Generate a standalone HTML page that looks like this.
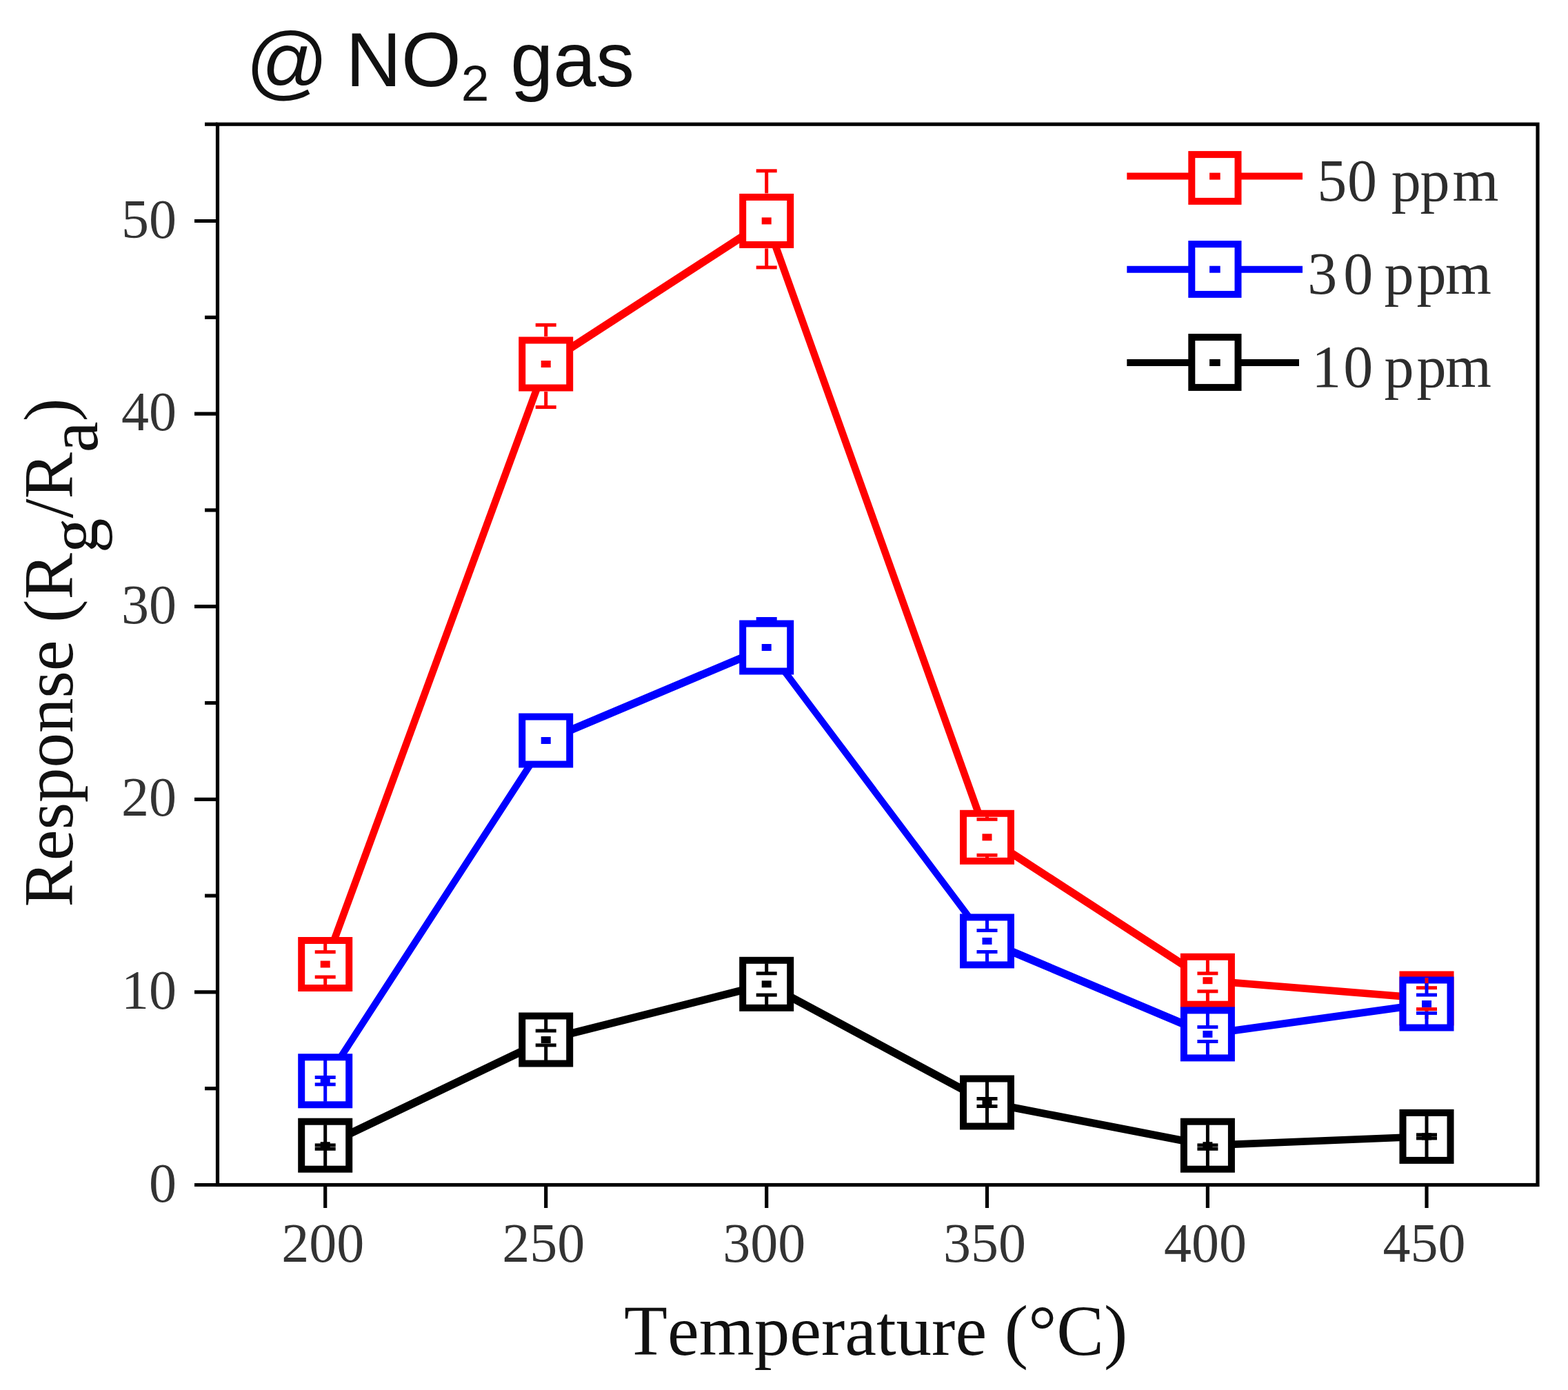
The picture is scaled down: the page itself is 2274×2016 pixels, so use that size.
<!DOCTYPE html>
<html><head><meta charset="utf-8"><title>NO2 response chart</title>
<style>html,body{margin:0;padding:0;background:#fff;}body{width:2274px;height:2016px;overflow:hidden;}svg{display:block;}text{font-kerning:none;font-feature-settings:'kern' 0;}</style>
</head><body>
<svg width="2274" height="2016" viewBox="0 0 2274 2016">
<rect x="0" y="0" width="2274" height="2016" fill="#ffffff"/>
<g stroke="#000" stroke-width="5.2" fill="none" stroke-linecap="butt">
<rect x="315.5" y="180.2" width="1914.5" height="1538.3"/>
<line x1="282.0" y1="1718.5" x2="315.5" y2="1718.5"/>
<line x1="297.0" y1="1578.7" x2="315.5" y2="1578.7"/>
<line x1="282.0" y1="1438.9" x2="315.5" y2="1438.9"/>
<line x1="297.0" y1="1299.1" x2="315.5" y2="1299.1"/>
<line x1="282.0" y1="1159.3" x2="315.5" y2="1159.3"/>
<line x1="297.0" y1="1019.5" x2="315.5" y2="1019.5"/>
<line x1="282.0" y1="879.7" x2="315.5" y2="879.7"/>
<line x1="297.0" y1="739.9" x2="315.5" y2="739.9"/>
<line x1="282.0" y1="600.1" x2="315.5" y2="600.1"/>
<line x1="297.0" y1="460.3" x2="315.5" y2="460.3"/>
<line x1="282.0" y1="320.5" x2="315.5" y2="320.5"/>
<line x1="297.0" y1="180.2" x2="315.5" y2="180.2"/>
<line x1="471.7" y1="1718.5" x2="471.7" y2="1752"/>
<line x1="791.7" y1="1718.5" x2="791.7" y2="1752"/>
<line x1="1111.7" y1="1718.5" x2="1111.7" y2="1752"/>
<line x1="1431.5" y1="1718.5" x2="1431.5" y2="1752"/>
<line x1="1751.4" y1="1718.5" x2="1751.4" y2="1752"/>
<line x1="2069.0" y1="1718.5" x2="2069.0" y2="1752"/>
</g>
<g font-family="Liberation Serif, Times New Roman, serif" font-size="80" fill="#333">
<text x="256" y="1742.5" text-anchor="end">0</text>
<text x="256" y="1462.9" text-anchor="end">10</text>
<text x="256" y="1183.3" text-anchor="end">20</text>
<text x="256" y="903.7" text-anchor="end">30</text>
<text x="256" y="624.1" text-anchor="end">40</text>
<text x="256" y="344.5" text-anchor="end">50</text>
<text x="468.2" y="1830" text-anchor="middle">200</text>
<text x="788.2" y="1830" text-anchor="middle">250</text>
<text x="1108.2" y="1830" text-anchor="middle">300</text>
<text x="1428.0" y="1830" text-anchor="middle">350</text>
<text x="1747.9" y="1830" text-anchor="middle">400</text>
<text x="2065.5" y="1830" text-anchor="middle">450</text>
</g>
<line x1="471.7" y1="1398.5" x2="791.7" y2="528.0" stroke="#ff0000" stroke-width="10.56"/>
<line x1="791.7" y1="528.0" x2="1111.7" y2="320.4" stroke="#ff0000" stroke-width="11.44"/>
<line x1="1111.7" y1="320.4" x2="1431.5" y2="1214.3" stroke="#ff0000" stroke-width="10.57"/>
<line x1="1431.5" y1="1214.3" x2="1751.4" y2="1422.2" stroke="#ff0000" stroke-width="11.44"/>
<line x1="1751.4" y1="1422.2" x2="2069.0" y2="1448.0" stroke="#ff0000" stroke-width="10.68"/>
<rect x="437.2" y="1364.0" width="69" height="69" fill="#fff" stroke="#ff0000" stroke-width="10"/><rect x="464.7" y="1393.5" width="14" height="10" fill="#ff0000"/>
<rect x="757.2" y="493.5" width="69" height="69" fill="#fff" stroke="#ff0000" stroke-width="10"/><rect x="784.7" y="523.0" width="14" height="10" fill="#ff0000"/>
<rect x="1077.2" y="285.9" width="69" height="69" fill="#fff" stroke="#ff0000" stroke-width="10"/><rect x="1104.7" y="315.4" width="14" height="10" fill="#ff0000"/>
<rect x="1397.0" y="1179.8" width="69" height="69" fill="#fff" stroke="#ff0000" stroke-width="10"/><rect x="1424.5" y="1209.3" width="14" height="10" fill="#ff0000"/>
<rect x="1716.9" y="1387.7" width="69" height="69" fill="#fff" stroke="#ff0000" stroke-width="10"/><rect x="1744.4" y="1417.2" width="14" height="10" fill="#ff0000"/>
<rect x="2034.5" y="1413.5" width="69" height="69" fill="#fff" stroke="#ff0000" stroke-width="10"/><rect x="2062.0" y="1443.0" width="14" height="10" fill="#ff0000"/>
<line x1="471.7" y1="1567.8" x2="791.7" y2="1074.0" stroke="#0000ff" stroke-width="10.04"/>
<line x1="791.7" y1="1074.0" x2="1111.7" y2="939.0" stroke="#0000ff" stroke-width="11.49"/>
<line x1="1111.7" y1="939.0" x2="1431.5" y2="1364.9" stroke="#0000ff" stroke-width="9.78"/>
<line x1="1431.5" y1="1364.9" x2="1751.4" y2="1499.9" stroke="#0000ff" stroke-width="11.49"/>
<line x1="1751.4" y1="1499.9" x2="2069.0" y2="1456.0" stroke="#0000ff" stroke-width="10.91"/>
<rect x="437.2" y="1533.3" width="69" height="69" fill="#fff" stroke="#0000ff" stroke-width="10"/><rect x="464.7" y="1562.8" width="14" height="10" fill="#0000ff"/>
<rect x="757.2" y="1039.5" width="69" height="69" fill="#fff" stroke="#0000ff" stroke-width="10"/><rect x="784.7" y="1069.0" width="14" height="10" fill="#0000ff"/>
<rect x="1077.2" y="904.5" width="69" height="69" fill="#fff" stroke="#0000ff" stroke-width="10"/><rect x="1104.7" y="934.0" width="14" height="10" fill="#0000ff"/>
<rect x="1397.0" y="1330.4" width="69" height="69" fill="#fff" stroke="#0000ff" stroke-width="10"/><rect x="1424.5" y="1359.9" width="14" height="10" fill="#0000ff"/>
<rect x="1716.9" y="1465.4" width="69" height="69" fill="#fff" stroke="#0000ff" stroke-width="10"/><rect x="1744.4" y="1494.9" width="14" height="10" fill="#0000ff"/>
<rect x="2034.5" y="1421.5" width="69" height="69" fill="#fff" stroke="#0000ff" stroke-width="10"/><rect x="2062.0" y="1451.0" width="14" height="10" fill="#0000ff"/>
<line x1="471.7" y1="1661.2" x2="791.7" y2="1508.0" stroke="#000000" stroke-width="11.51"/>
<line x1="791.7" y1="1508.0" x2="1111.7" y2="1427.3" stroke="#000000" stroke-width="11.25"/>
<line x1="1111.7" y1="1427.3" x2="1431.5" y2="1599.0" stroke="#000000" stroke-width="11.51"/>
<line x1="1431.5" y1="1599.0" x2="1751.4" y2="1661.2" stroke="#000000" stroke-width="11.09"/>
<line x1="1751.4" y1="1661.2" x2="2069.0" y2="1648.4" stroke="#000000" stroke-width="10.50"/>
<rect x="437.2" y="1626.7" width="69" height="69" fill="#fff" stroke="#000000" stroke-width="10"/><rect x="464.7" y="1656.2" width="14" height="10" fill="#000000"/>
<rect x="757.2" y="1473.5" width="69" height="69" fill="#fff" stroke="#000000" stroke-width="10"/><rect x="784.7" y="1503.0" width="14" height="10" fill="#000000"/>
<rect x="1077.2" y="1392.8" width="69" height="69" fill="#fff" stroke="#000000" stroke-width="10"/><rect x="1104.7" y="1422.3" width="14" height="10" fill="#000000"/>
<rect x="1397.0" y="1564.5" width="69" height="69" fill="#fff" stroke="#000000" stroke-width="10"/><rect x="1424.5" y="1594.0" width="14" height="10" fill="#000000"/>
<rect x="1716.9" y="1626.7" width="69" height="69" fill="#fff" stroke="#000000" stroke-width="10"/><rect x="1744.4" y="1656.2" width="14" height="10" fill="#000000"/>
<rect x="2034.5" y="1613.9" width="69" height="69" fill="#fff" stroke="#000000" stroke-width="10"/><rect x="2062.0" y="1643.4" width="14" height="10" fill="#000000"/>
<g stroke="#ff0000" stroke-width="5" fill="none">
<line x1="471.7" y1="1368.5" x2="471.7" y2="1380.7"/>
<line x1="456.7" y1="1380.7" x2="486.7" y2="1380.7"/>
<line x1="471.7" y1="1428.5" x2="471.7" y2="1417.0"/>
<line x1="456.7" y1="1417.0" x2="486.7" y2="1417.0"/>
<line x1="791.7" y1="471.3" x2="791.7" y2="488.0"/>
<line x1="776.7" y1="471.3" x2="806.7" y2="471.3"/>
<line x1="791.7" y1="590.5" x2="791.7" y2="568.0"/>
<line x1="776.7" y1="590.5" x2="806.7" y2="590.5"/>
<line x1="1111.7" y1="247.8" x2="1111.7" y2="280.4"/>
<line x1="1096.7" y1="247.8" x2="1126.7" y2="247.8"/>
<line x1="1111.7" y1="387.9" x2="1111.7" y2="360.4"/>
<line x1="1096.7" y1="387.9" x2="1126.7" y2="387.9"/>
<line x1="1431.5" y1="1184.3" x2="1431.5" y2="1188.3"/>
<line x1="1416.5" y1="1188.3" x2="1446.5" y2="1188.3"/>
<line x1="1431.5" y1="1244.3" x2="1431.5" y2="1240.3"/>
<line x1="1416.5" y1="1240.3" x2="1446.5" y2="1240.3"/>
<line x1="1751.4" y1="1392.2" x2="1751.4" y2="1411.8"/>
<line x1="1736.4" y1="1411.8" x2="1766.4" y2="1411.8"/>
<line x1="1751.4" y1="1452.2" x2="1751.4" y2="1437.8"/>
<line x1="1736.4" y1="1437.8" x2="1766.4" y2="1437.8"/>
<line x1="2069.0" y1="1418.0" x2="2069.0" y2="1432.7"/>
<line x1="2054.0" y1="1432.7" x2="2084.0" y2="1432.7"/>
<line x1="2069.0" y1="1478.0" x2="2069.0" y2="1463.6"/>
<line x1="2054.0" y1="1463.6" x2="2084.0" y2="1463.6"/>
</g>
<g stroke="#0000ff" stroke-width="5" fill="none">
<line x1="471.7" y1="1537.8" x2="471.7" y2="1562.5"/>
<line x1="456.7" y1="1562.5" x2="486.7" y2="1562.5"/>
<line x1="471.7" y1="1597.8" x2="471.7" y2="1572.8"/>
<line x1="456.7" y1="1572.8" x2="486.7" y2="1572.8"/>
<line x1="1111.7" y1="897.5" x2="1111.7" y2="899.0"/>
<line x1="1096.7" y1="897.5" x2="1126.7" y2="897.5"/>
<line x1="1111.7" y1="969.0" x2="1111.7" y2="975.0"/>
<line x1="1096.7" y1="975.0" x2="1126.7" y2="975.0"/>
<line x1="1431.5" y1="1334.9" x2="1431.5" y2="1349.5"/>
<line x1="1416.5" y1="1349.5" x2="1446.5" y2="1349.5"/>
<line x1="1431.5" y1="1394.9" x2="1431.5" y2="1380.5"/>
<line x1="1416.5" y1="1380.5" x2="1446.5" y2="1380.5"/>
<line x1="1751.4" y1="1469.9" x2="1751.4" y2="1489.6"/>
<line x1="1736.4" y1="1489.6" x2="1766.4" y2="1489.6"/>
<line x1="1751.4" y1="1529.9" x2="1751.4" y2="1510.5"/>
<line x1="1736.4" y1="1510.5" x2="1766.4" y2="1510.5"/>
<line x1="2069.0" y1="1426.0" x2="2069.0" y2="1443.0"/>
<line x1="2054.0" y1="1443.0" x2="2084.0" y2="1443.0"/>
<line x1="2069.0" y1="1486.0" x2="2069.0" y2="1469.4"/>
<line x1="2054.0" y1="1469.4" x2="2084.0" y2="1469.4"/>
</g>
<g stroke="#000000" stroke-width="5" fill="none">
<line x1="471.7" y1="1631.2" x2="471.7" y2="1660.9"/>
<line x1="456.7" y1="1660.9" x2="486.7" y2="1660.9"/>
<line x1="471.7" y1="1691.2" x2="471.7" y2="1666.3"/>
<line x1="456.7" y1="1666.3" x2="486.7" y2="1666.3"/>
<line x1="791.7" y1="1478.0" x2="791.7" y2="1495.0"/>
<line x1="776.7" y1="1495.0" x2="806.7" y2="1495.0"/>
<line x1="791.7" y1="1538.0" x2="791.7" y2="1515.9"/>
<line x1="776.7" y1="1515.9" x2="806.7" y2="1515.9"/>
<line x1="1111.7" y1="1397.3" x2="1111.7" y2="1411.8"/>
<line x1="1096.7" y1="1411.8" x2="1126.7" y2="1411.8"/>
<line x1="1111.7" y1="1457.3" x2="1111.7" y2="1443.1"/>
<line x1="1096.7" y1="1443.1" x2="1126.7" y2="1443.1"/>
<line x1="1431.5" y1="1569.0" x2="1431.5" y2="1593.5"/>
<line x1="1416.5" y1="1593.5" x2="1446.5" y2="1593.5"/>
<line x1="1431.5" y1="1629.0" x2="1431.5" y2="1604.5"/>
<line x1="1416.5" y1="1604.5" x2="1446.5" y2="1604.5"/>
<line x1="1751.4" y1="1631.2" x2="1751.4" y2="1660.9"/>
<line x1="1736.4" y1="1660.9" x2="1766.4" y2="1660.9"/>
<line x1="1751.4" y1="1691.2" x2="1751.4" y2="1666.3"/>
<line x1="1736.4" y1="1666.3" x2="1766.4" y2="1666.3"/>
<line x1="2069.0" y1="1618.4" x2="2069.0" y2="1645.8"/>
<line x1="2054.0" y1="1645.8" x2="2084.0" y2="1645.8"/>
<line x1="2069.0" y1="1678.4" x2="2069.0" y2="1650.9"/>
<line x1="2054.0" y1="1650.9" x2="2084.0" y2="1650.9"/>
</g>
<line x1="1634.3" y1="255.6" x2="1889" y2="255.6" stroke="#ff0000" stroke-width="10"/>
<rect x="1728.3" y="224.1" width="67.2" height="67.8" fill="#fff" stroke="#ff0000" stroke-width="10"/>
<rect x="1754.1" y="250.6" width="15.6" height="10" fill="#ff0000"/>
<text x="1910.2 1953.9 1996.9 2017.8 2059.6 2106.6" y="290.8" font-family="Liberation Serif, Times New Roman, serif" font-size="86" fill="#2d2d2d">50 ppm</text>
<line x1="1634.3" y1="390.7" x2="1889" y2="390.7" stroke="#0000ff" stroke-width="10"/>
<rect x="1728.3" y="354.1" width="67.2" height="72.8" fill="#fff" stroke="#0000ff" stroke-width="10"/>
<rect x="1754.1" y="385.7" width="15.6" height="10" fill="#0000ff"/>
<text x="1896.2 1948.3 1991.3 2007.5 2054.5 2095.9" y="425.8" font-family="Liberation Serif, Times New Roman, serif" font-size="86" fill="#2d2d2d">30 ppm</text>
<line x1="1634.3" y1="526.0" x2="1884" y2="526.0" stroke="#000000" stroke-width="10"/>
<rect x="1728.3" y="489.1" width="67.2" height="72.8" fill="#fff" stroke="#000000" stroke-width="10"/>
<rect x="1754.1" y="521.0" width="15.6" height="10" fill="#000000"/>
<text x="1902.2 1948.3 1991.3 2007.5 2054.5 2095.9" y="560.8" font-family="Liberation Serif, Times New Roman, serif" font-size="86" fill="#2d2d2d">10 ppm</text>
<text x="905" y="1965" font-family="Liberation Serif, Times New Roman, serif" font-size="103" fill="#111">Temperature (°C)</text>
<text transform="translate(104.7,1315.5) rotate(-90)" font-family="Liberation Serif, Times New Roman, serif" font-size="101" fill="#111">Response (R<tspan dy="36">g</tspan><tspan dy="-36">/R</tspan><tspan dy="36">a</tspan><tspan dy="-36">)</tspan></text>
<text x="356.5" y="130" font-family="Liberation Sans, Arial, sans-serif" font-size="118" fill="#111">@</text>
<text x="501.5" y="125.4" font-family="Liberation Sans, Arial, sans-serif" font-size="111.5" fill="#111">NO<tspan font-size="73" dy="20.6">2</tspan><tspan dy="-20.6"> gas</tspan></text>
</svg>
</body></html>
